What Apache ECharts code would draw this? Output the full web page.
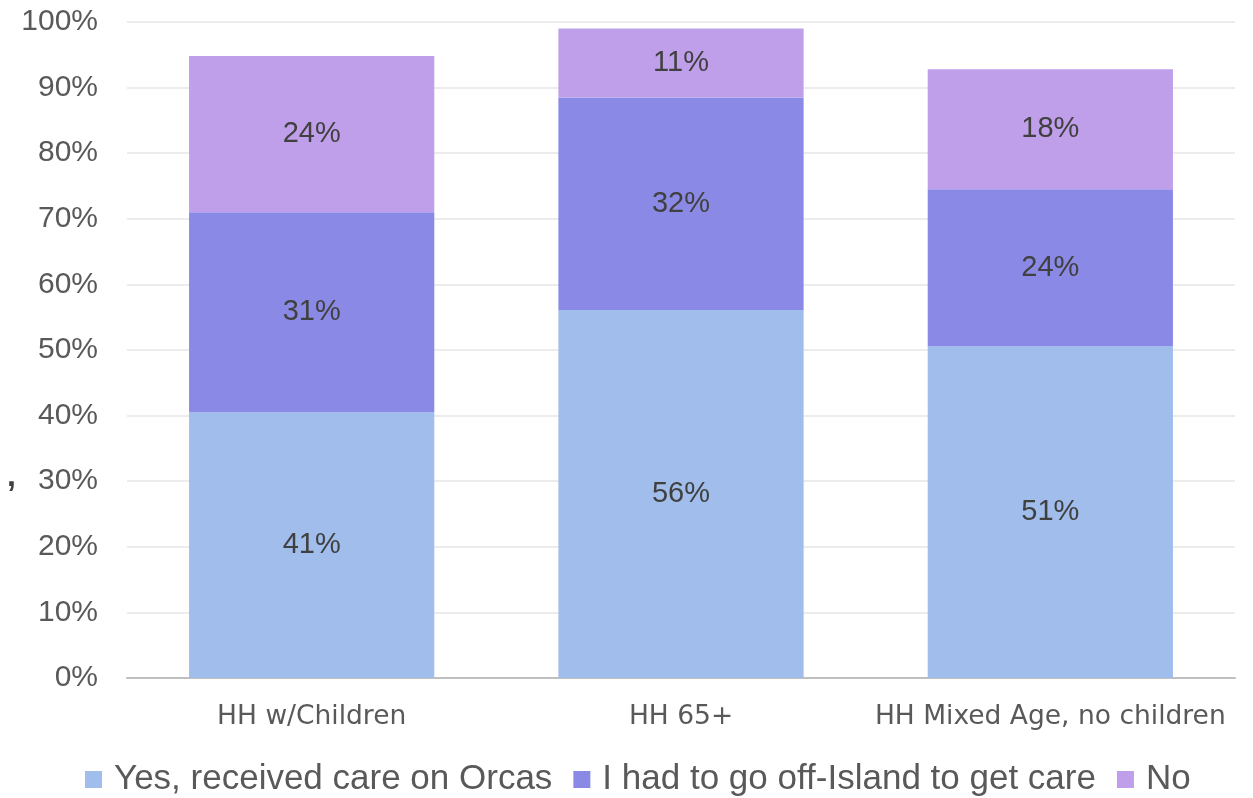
<!DOCTYPE html>
<html><head><meta charset="utf-8">
<script src="https://cdn.jsdelivr.net/npm/echarts@6/dist/echarts.min.js"></script>
<style>html,body{margin:0;padding:0;background:#fff}#c{width:1253px;height:798px}</style>
</head><body><div id="c"></div>
<script>
const categories = ['HH w/Children', 'HH 65+', 'HH Mixed Age, no children'];
const yesOrcas = [40.5, 56.1, 50.6];
const offIsland = [30.5, 32.4, 23.9];
const noCare = [23.8, 10.5, 18.3];
const seriesNames = ['Yes, received care on Orcas', 'I had to go off-Island to get care', 'No'];
const colors = ['#A0BDEB', '#8A8AE6', '#C09FEA'];

const chart = echarts.init(document.getElementById('c'));
const lbl = {
  show: true, position: 'inside', color: '#404040', fontSize: 29,
  fontFamily: 'Liberation Sans, Arial, sans-serif',
  formatter: p => Math.round(p.value) + '%'
};
const mk = (name, data, i) => ({
  name, type: 'bar', stack: 'a', data, barWidth: '66.4%',
  itemStyle: { color: colors[i] }, label: lbl
});
chart.setOption({
  animation: false,
  grid: { left: 127, right: 18, top: 22, bottom: 120 },
  legend: {
    top: 757, left: 80, itemWidth: 17, itemHeight: 17, itemGap: 21,
    icon: 'rect',
    textStyle: { fontSize: 35, color: '#595959', padding: [0, 0, 0, 7], fontFamily: 'Liberation Sans Narrow, Arial Narrow, sans-serif' },
    data: seriesNames
  },
  xAxis: {
    type: 'category', data: categories,
    axisLine: { lineStyle: { color: '#bfbfbf', width: 2 } },
    axisTick: { show: false },
    axisLabel: { interval: 0, fontSize: 26.5, color: '#595959', margin: 26, fontFamily: 'DejaVu Sans, sans-serif' }
  },
  yAxis: {
    type: 'value', min: 0, max: 100, interval: 10,
    axisLabel: { formatter: '{value}%', fontSize: 30, color: '#595959', margin: 29, fontFamily: 'Liberation Sans, Arial, sans-serif' },
    splitLine: { lineStyle: { color: '#e6e6e6', width: 1.5 } },
    axisLine: { show: false }, axisTick: { show: false }
  },
  graphic: [{ type: 'text', left: 7, top: 461, style: { text: ',', fontSize: 32, fontWeight: 'bold', fill: '#404040', fontFamily: 'Liberation Sans, sans-serif' } }],
  series: [mk(seriesNames[0], yesOrcas, 0), mk(seriesNames[1], offIsland, 1), mk(seriesNames[2], noCare, 2)]
});
</script></body></html>
